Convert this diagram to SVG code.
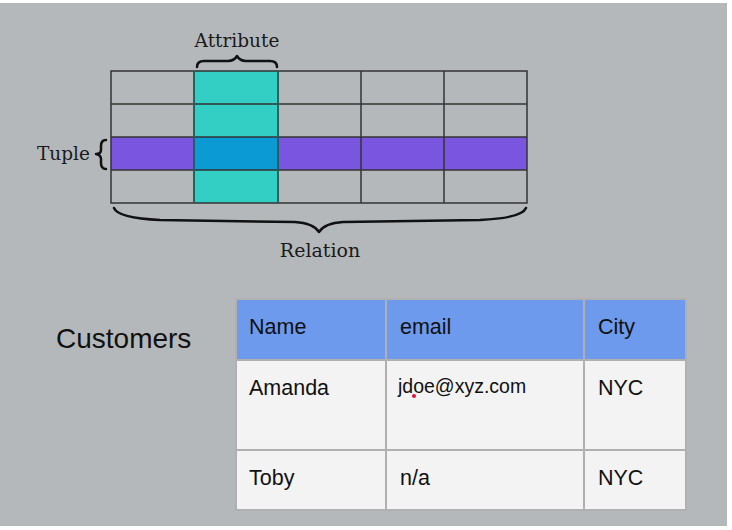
<svg xmlns="http://www.w3.org/2000/svg" width="732" height="530" viewBox="0 0 732 530">
<style>
.slab{font-family:"DejaVu Serif","Liberation Serif",serif;fill:#1a1a1a}
.sans{font-family:"Liberation Sans",Arial,sans-serif;fill:#111}
.cell{font-size:21.5px}
.grid{stroke:#333;stroke-width:1.5;fill:none}
.tline{stroke:#b0b0b0;stroke-width:2;fill:none}
.brace{fill:none;stroke:#111;stroke-width:2.5;stroke-linecap:round;stroke-linejoin:round}
</style>
<rect x="0" y="0" width="732" height="530" fill="#ffffff"/>
<rect x="0" y="3" width="727" height="523" fill="#b5b8bb"/>
<g id="relation">
<rect x="194" y="71" width="84" height="132" fill="#33cfc4"/>
<rect x="111" y="137" width="416" height="33" fill="#7a55e0"/>
<rect x="194" y="137" width="84" height="33" fill="#0b9ad4"/>
<path class="grid" d="M111 71H527V203H111Z M111 104H527 M111 137H527 M111 170H527 M194 71V203 M278 71V203 M361 71V203 M444 71V203"/>
<path d="M194 71V203 M278 71V203" stroke="#1a6a62" stroke-width="1.5"/>
</g>
<g id="attribute">
<path class="brace" d="M197 67 Q197 61 204 61 L228 61 Q234 61 237 56 Q240 61 246 61 L270 61 Q277 61 277 67"/>
<text class="slab" x="237" y="47" font-size="18.5" text-anchor="middle">Attribute</text>
</g>
<g id="tuple">
<path class="brace" d="M106 140 Q101 140 101 146 L101 150 Q101 154 96 154 Q101 155 101 159 L101 163 Q101 169 106 169" stroke-width="3"/>
<text class="slab" x="37" y="160" font-size="18.5">Tuple</text>
</g>
<g id="relation-label">
<path class="brace" d="M114 208 Q118 218 160 220 L295 222 Q313 223 319 232 Q325 223 343 222 L480 220 Q522 218 526 208" stroke-width="3.2"/>
<text class="slab" x="320" y="257" font-size="19" text-anchor="middle">Relation</text>
</g>
<g id="customers">
<text class="sans" x="56" y="348" font-size="28">Customers</text>
</g>
<g id="table">
<rect x="236" y="299" width="450" height="61" fill="#6d9aec"/>
<rect x="236" y="360" width="450" height="150" fill="#f3f3f3"/>
<path class="tline" d="M236 299H686V510H236Z M236 360H686 M236 450H686 M386 299V510 M584 299V510"/>
<text class="sans cell" x="249" y="334">Name</text>
<text class="sans cell" x="400" y="334">email</text>
<text class="sans cell" x="598" y="334">City</text>
<text class="sans cell" x="249" y="395">Amanda</text>
<text class="sans" x="398" y="393" style="font-size:19.5px">jdoe@xyz.com</text>
<circle cx="414" cy="396" r="2" fill="#e0103a"/>
<text class="sans cell" x="598" y="395">NYC</text>
<text class="sans cell" x="249" y="485">Toby</text>
<text class="sans cell" x="400" y="485">n/a</text>
<text class="sans cell" x="598" y="485">NYC</text>
</g>
</svg>
